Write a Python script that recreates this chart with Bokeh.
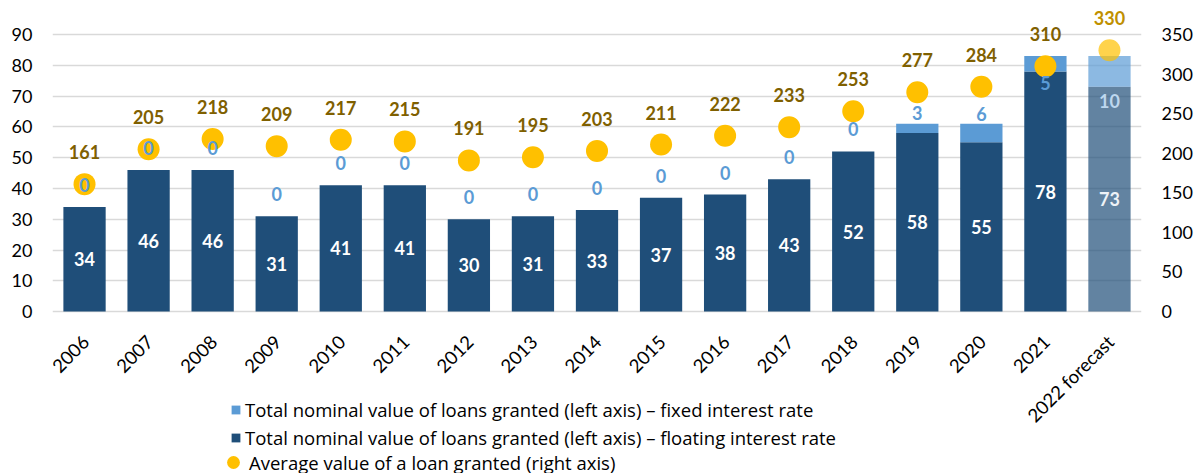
import math
from bokeh.plotting import figure
from bokeh.models import (ColumnDataSource, FactorRange, Range1d, LinearAxis, FixedTicker,
                          Legend, LegendItem)
from bokeh.core.properties import value
from bokeh.embed import file_html
from bokeh.resources import INLINE

# ---- data ----
years = ["2006", "2007", "2008", "2009", "2010", "2011", "2012", "2013", "2014",
         "2015", "2016", "2017", "2018", "2019", "2020", "2021", "2022 forecast"]
floating = [34, 46, 46, 31, 41, 41, 30, 31, 33, 37, 38, 43, 52, 58, 55, 78, 73]
fixed = [0, 0, 0, 0, 0, 0, 0, 0, 0, 0, 0, 0, 0, 3, 6, 5, 10]
average = [161, 205, 218, 209, 217, 215, 191, 195, 203, 211, 222, 233, 253, 277, 284, 310, 330]

left_ticks = [0, 10, 20, 30, 40, 50, 60, 70, 80, 90]
right_ticks = [0, 50, 100, 150, 200, 250, 300, 350]

# ---- styles ----
DARK = "#1F4E79"
LIGHT = "#5B9BD5"
GOLD = "#FFC000"
GOLD_TXT = "#7F6000"
FONT = "Lato"
LFONT = "Open Sans"

is_fc = [y.endswith("forecast") for y in years]
bar_alpha = [0.7 if f else 1.0 for f in is_fc]
dot_alpha = [0.7 if f else 1.0 for f in is_fc]
fixed_txt_col = ["#BDD7EE" if f else LIGHT for f in is_fc]
float_txt_col = ["#EEF2F7" if f else "white" for f in is_fc]
avg_txt_col = ["#BF9000" if f else GOLD_TXT for f in is_fc]
fixed_dy = [-22] * 13 + [-11, -10, 27, 45]

src = ColumnDataSource(dict(
    x=years,
    floating=floating,
    fixed=fixed,
    total=[a + b for a, b in zip(floating, fixed)],
    fmid=[a / 2 for a in floating],
    average=average,
    zero=[0] * len(years),
    ftxt=[str(v) for v in floating],
    xtxt=[str(v) for v in fixed],
    atxt=[str(v) for v in average],
    balpha=bar_alpha,
    dalpha=dot_alpha,
    fixed_txt_col=fixed_txt_col,
    float_txt_col=float_txt_col,
    avg_txt_col=avg_txt_col,
    fixed_dy=fixed_dy,
))

# frame: top at y=10, value 0 at y=311, bottom at 473  (3.078 px per unit)
ytop = 97.8
ybot = -52.6
W, H = 1196, 473
p = figure(x_range=FactorRange(*years, range_padding=0.0), y_range=Range1d(ybot, ytop),
           width=W, height=H, output_backend="svg", toolbar_location=None,
           min_border_left=52, min_border_right=55, min_border_top=10, min_border_bottom=0)
p.extra_y_ranges = {"right": Range1d(ybot * 350 / 90, ytop * 350 / 90)}
p.outline_line_color = None
p.background_fill_color = "white"
p.border_fill_color = "white"

p.xgrid.grid_line_color = None
p.ygrid.ticker = FixedTicker(ticks=left_ticks)
p.ygrid.grid_line_color = "#D9D9D9"
p.ygrid.grid_line_width = 1.3

r_float = p.vbar(x="x", top="floating", bottom=0, width=0.66, source=src,
                 fill_color=DARK, line_color=None, fill_alpha="balpha")
r_fixed = p.vbar(x="x", top="total", bottom="floating", width=0.66, source=src,
                 fill_color=LIGHT, line_color=None, fill_alpha="balpha")
r_dot = p.scatter(x="x", y="average", y_range_name="right", size=22, source=src,
                  fill_color=GOLD, line_color=None, fill_alpha="dalpha")

lbl = dict(text_font=value(FONT), text_font_style="bold", text_font_size="18px",
           text_align="center", text_baseline="middle")
p.text(x="x", y="fmid", text="ftxt", source=src, text_color="float_txt_col", **lbl)
p.text(x="x", y="total", text="xtxt", source=src, text_color="fixed_txt_col",
       y_offset="fixed_dy", **lbl)
p.text(x="x", y="average", text="atxt", source=src, text_color="avg_txt_col",
       y_range_name="right", y_offset=-32, **lbl)

# category labels (rotated), drawn below the zero line
p.text(x="x", y="zero", text="x", source=src, angle=math.pi / 4,
       x_offset=1, y_offset=27, text_color="#000000",
       text_font=value(FONT), text_font_size="18.5px",
       text_align="right", text_baseline="middle")

# axes
p.xaxis.visible = False
ax = p.yaxis[0]
ax.ticker = FixedTicker(ticks=left_ticks)
ra = LinearAxis(y_range_name="right", ticker=FixedTicker(ticks=right_ticks))
p.add_layout(ra, "right")
for a in (ax, ra):
    a.axis_line_color = None
    a.major_tick_line_color = None
    a.minor_tick_line_color = None
    a.major_label_text_font = FONT
    a.major_label_text_font_size = "18px"
    a.major_label_text_color = "#000000"
    a.major_label_standoff = 14

legend_style = dict(orientation="vertical", label_text_font=LFONT, label_text_font_size="18.5px",
                    label_text_color="#000000", padding=0, margin=0,
                    border_line_color=None, background_fill_alpha=0)
legend_a = Legend(items=[
    LegendItem(label="Total nominal value of loans granted (left axis) \u2013 fixed interest rate",
               renderers=[r_fixed], index=0),
    LegendItem(label="Total nominal value of loans granted (left axis) \u2013 floating interest rate",
               renderers=[r_float], index=0),
], location=(178, 23), glyph_width=11, glyph_height=11, label_height=23, spacing=3,
    label_standoff=4, **legend_style)
legend_b = Legend(items=[
    LegendItem(label="Average value of a loan granted (right axis)", renderers=[r_dot], index=0),
], location=(165, -5), glyph_width=32, glyph_height=32, label_height=23, spacing=0,
    label_standoff=0, **legend_style)
p.add_layout(legend_a, "center")
p.add_layout(legend_b, "center")

open("out.html", "w").write(file_html(p, INLINE))
